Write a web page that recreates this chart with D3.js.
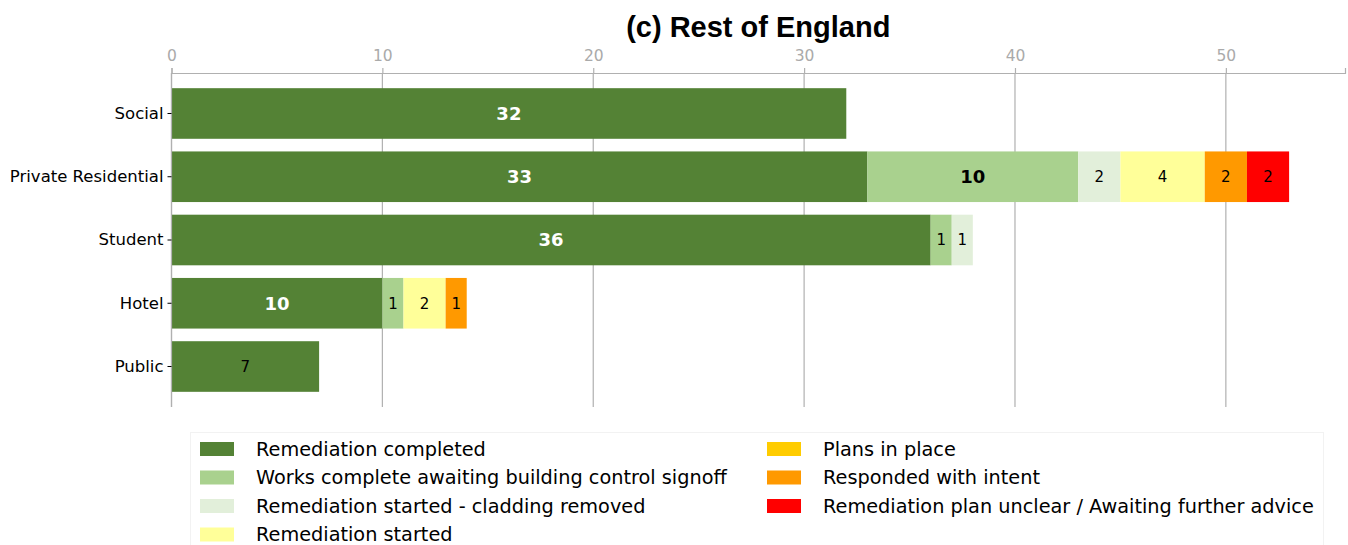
<!DOCTYPE html>
<meta charset="utf-8">
<style>
  body { margin: 0; background: #fff; }
  text { font-family: "DejaVu Sans", sans-serif; }
</style>
<body>
<svg id="chart" width="1348" height="545"></svg>
<script src="https://cdn.jsdelivr.net/npm/d3@7"></script>
<script>

// categories (top to bottom)
var categories = ["Social", "Private Residential", "Student", "Hotel", "Public"];

// series, in stacking order
var seriesNames = [
  "Remediation completed",
  "Works complete awaiting building control signoff",
  "Remediation started - cladding removed",
  "Remediation started",
  "Plans in place",
  "Responded with intent",
  "Remediation plan unclear / Awaiting further advice"
];
var seriesColors = ["#548235", "#a9d18e", "#e2efda", "#ffff99", "#ffcc00", "#ff9900", "#ff0000"];

// values per series, one per category
var completed   = [32, 33, 36, 10, 7];
var worksDone   = [0, 10, 1, 1, 0];
var claddingOff = [0, 2, 1, 0, 0];
var started     = [0, 4, 0, 2, 0];
var plans       = [0, 0, 0, 0, 0];
var intent      = [0, 2, 0, 1, 0];
var unclear     = [0, 2, 0, 0, 0];

var xTicks = [0, 10, 20, 30, 40, 50];

(function() {
  var allSeries = [completed, worksDone, claddingOff, started, plans, intent, unclear];

  var rows = categories.map(function(c, i) {
    var r = {cat: c};
    seriesNames.forEach(function(s, j) { r[s] = allSeries[j][i]; });
    return r;
  });

  var stacked = d3.stack().keys(seriesNames)(rows);
  var maxTotal = d3.max(rows, function(r) { return d3.sum(seriesNames, function(s) { return r[s]; }); });

  var svg = d3.select("#chart");
  var pLeft = 171.5, pRight = 1345, pTop = 73, pBottom = 407;

  var x = d3.scaleLinear().domain([0, maxTotal * 1.05]).range([pLeft, pRight]);
  var y = d3.scaleBand().domain(categories).range([pTop, pBottom]).paddingInner(0.2).paddingOuter(0.24);

  // grid
  svg.append("g")
    .selectAll("line")
    .data(xTicks)
    .enter().append("line")
    .attr("x1", function(d) { return x(d); })
    .attr("x2", function(d) { return x(d); })
    .attr("y1", pTop).attr("y2", pBottom)
    .attr("stroke", "#b0b0b0").attr("stroke-width", 1.2);

  // bars
  var layer = svg.append("g").selectAll("g")
    .data(stacked)
    .enter().append("g")
    .attr("fill", function(d, i) { return seriesColors[i]; });

  layer.selectAll("rect")
    .data(function(d) { return d.map(function(p) { return {p: p, key: d.key}; }); })
    .enter().append("rect")
    .attr("x", function(d) { return x(d.p[0]); })
    .attr("width", function(d) { return x(d.p[1]) - x(d.p[0]); })
    .attr("y", function(d) { return y(d.p.data.cat); })
    .attr("height", y.bandwidth());

  // bar labels
  layer.selectAll("text")
    .data(function(d, i) {
      return d.filter(function(p) { return p[1] - p[0] > 0; })
        .map(function(p) { return {p: p, si: i}; });
    })
    .enter().append("text")
    .attr("x", function(d) { return (x(d.p[0]) + x(d.p[1])) / 2; })
    .attr("y", function(d) { return y(d.p.data.cat) + y.bandwidth() / 2; })
    .attr("dy", "0.36em")
    .attr("text-anchor", "middle")
    .style("font-size", function(d) { return (d.p[1] - d.p[0]) >= 10 ? "18px" : "15px"; })
    .style("font-weight", function(d) { return (d.p[1] - d.p[0]) >= 10 ? "bold" : "normal"; })
    .attr("fill", function(d) { return ((d.p[1] - d.p[0]) >= 10 && d.si === 0) ? "#fff" : "#000"; })
    .text(function(d) { return d.p[1] - d.p[0]; });

  // top axis
  var xAxis = svg.append("g")
    .attr("transform", "translate(0," + pTop + ")")
    .call(d3.axisTop(x).tickValues(xTicks).tickSize(5).tickPadding(7));
  xAxis.select(".domain").attr("stroke", "#b0b0b0").attr("stroke-width", 1.2);
  xAxis.selectAll(".tick line").attr("stroke", "#b0b0b0").attr("stroke-width", 1.2);
  xAxis.selectAll(".tick text").attr("fill", "#aaaaaa").style("font-size", "15.5px").style("font-family", "DejaVu Sans");

  // left axis
  var yAxis = svg.append("g")
    .attr("transform", "translate(" + pLeft + ",0)")
    .call(d3.axisLeft(y).tickSize(4).tickPadding(4));
  yAxis.select(".domain").attr("stroke", "#b0b0b0").attr("stroke-width", 1.2)
    .attr("d", "M0," + pTop + "V" + pBottom);
  yAxis.selectAll(".tick line").attr("stroke", "#000").attr("stroke-width", 1);
  yAxis.selectAll(".tick text").attr("fill", "#000").style("font-size", "16.5px").style("font-family", "DejaVu Sans");

  // title
  svg.append("text")
    .attr("x", (pLeft + pRight) / 2)
    .attr("y", 37)
    .attr("text-anchor", "middle")
    .style("font-family", "Liberation Sans, Arial, sans-serif")
    .style("font-weight", "bold")
    .style("font-size", "29px")
    .text("(c) Rest of England");

  // legend
  var legend = svg.append("g");
  legend.append("rect")
    .attr("x", 190.5).attr("y", 432.5).attr("width", 1133).attr("height", 130)
    .attr("fill", "#fff").attr("stroke", "#f2f2f2");

  var perCol = 4;
  var item = legend.selectAll("g.item")
    .data(seriesNames)
    .enter().append("g")
    .attr("class", "item")
    .attr("transform", function(d, i) {
      var col = Math.floor(i / perCol), row = i % perCol;
      return "translate(" + (col === 0 ? 200 : 767) + "," + (449 + row * 28.5) + ")";
    });
  item.append("rect")
    .attr("x", 0).attr("y", -7).attr("width", 34).attr("height", 14)
    .attr("fill", function(d, i) { return seriesColors[i]; });
  item.append("text")
    .attr("x", 56).attr("y", 0).attr("dy", "0.35em")
    .style("font-size", "19.3px")
    .text(function(d) { return d; });
})();

</script>
</body>
